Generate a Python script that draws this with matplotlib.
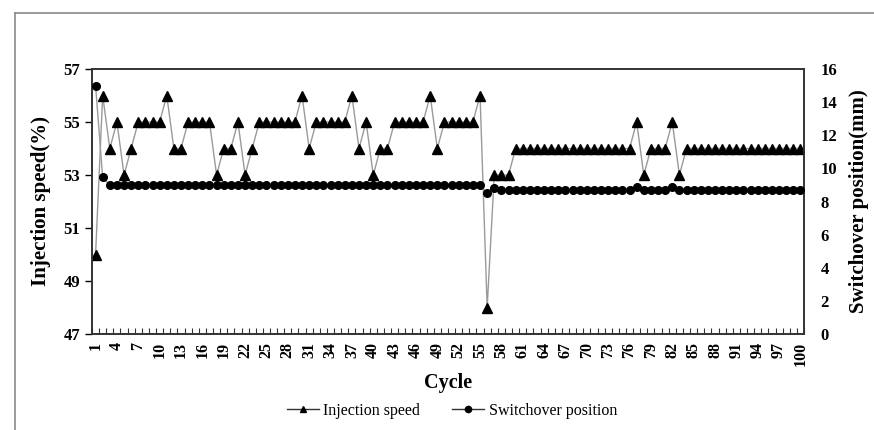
import matplotlib
matplotlib.use("Agg")
import matplotlib.pyplot as plt
import numpy as np
from matplotlib.lines import Line2D

cycles = list(range(1, 101))
injection_speed = (
    [50, 56, 54, 55, 53, 54, 55, 55, 55, 55,
     56, 54, 54, 55, 55, 55, 55, 53, 54, 54,
     55, 53, 54, 55, 55, 55, 55, 55, 55, 56,
     54, 55, 55, 55, 55, 55, 56, 54, 55, 53,
     54, 54, 55, 55, 55, 55, 55, 56, 54, 55,
     55, 55, 55, 55, 56, 48, 53, 53, 53, 54]
    + [54] * 16 + [55, 53, 54, 54, 54, 55, 53] + [54] * 17
)
switchover_position = (
    [15.0, 9.45] + [9.0] * 53 + [8.5, 8.83]
    + [8.7] * 19 + [8.86] + [8.7] * 4 + [8.86] + [8.7] * 18
)
xtick_labels = [str(c) for c in range(1, 101, 3)]

plt.rcParams['font.family'] = ['Liberation Serif', 'DejaVu Serif']

fig = plt.figure(figsize=(8.74, 4.30), dpi=100)
# outer frame (left and top edges visible)
fig.add_artist(Line2D([15/874, 15/874], [0, 1 - 13/430], color='#8a8a8a', lw=1.2))
fig.add_artist(Line2D([15/874, 1], [1 - 13/430, 1 - 13/430], color='#8a8a8a', lw=1.2))

ax = fig.add_axes([92/874, 1 - 334/430, (804 - 92)/874, (334 - 69)/430])
ax2 = ax.twinx()

line_col = '#9a9a9a'
ax.plot(cycles, injection_speed, color=line_col, lw=1.0, marker='^',
        markersize=6.5, markerfacecolor='black', markeredgecolor='black', zorder=3)
ax2.plot(cycles, switchover_position, color=line_col, lw=1.0, marker='o',
         markersize=5.5, markerfacecolor='black', markeredgecolor='black', zorder=3)

ax.set_xlim(0.5, 100.5)
ax.set_ylim(47, 57)
ax2.set_ylim(0, 16)
ax.set_yticks(np.arange(47, 58, 2))
ax2.set_yticks(np.arange(0, 17, 2))

ax.set_xticks(list(range(1, 101, 3)))
ax.set_xticklabels(xtick_labels, rotation=90, fontsize=11.5, fontweight='bold')
ax.set_xticks(np.arange(0.5, 101, 1), minor=True)
ax.tick_params(axis='x', which='major', length=0, pad=6)
ax.tick_params(axis='x', which='minor', direction='in', length=4, width=0.8, color='#333333')
ax.tick_params(axis='y', which='major', direction='out', length=5, width=1, labelsize=12)
for lbl in ax.get_yticklabels():
    lbl.set_fontweight('bold')
ax2.tick_params(axis='y', length=0, labelsize=12, pad=12)
for lbl in ax2.get_yticklabels():
    lbl.set_fontweight('bold')

for a in (ax, ax2):
    for s in a.spines.values():
        s.set_color('#333333')
        s.set_linewidth(1.2)

ax.set_xlabel('Cycle', fontsize=14.5, fontweight='bold', labelpad=5)
ax.set_ylabel('Injection speed(%)', fontsize=15, fontweight='bold', labelpad=9)
ax2.set_ylabel('Switchover position(mm)', fontsize=15, fontweight='bold', labelpad=8)

handles = [
    Line2D([], [], color='#333333', lw=1.0, marker='^', markersize=5,
           markerfacecolor='black', markeredgecolor='black'),
    Line2D([], [], color='#333333', lw=1.0, marker='o', markersize=4.5,
           markerfacecolor='black', markeredgecolor='black'),
]
fig.legend(handles, ['Injection speed', 'Switchover position'], loc='center',
           bbox_to_anchor=(452/874, 1 - 411/430), ncol=2, frameon=False,
           prop={'family': ['Liberation Serif', 'DejaVu Serif'], 'size': 11.5},
           handlelength=2.0, columnspacing=2.0, handletextpad=0.3)

fig.savefig('out.png', dpi=100)
